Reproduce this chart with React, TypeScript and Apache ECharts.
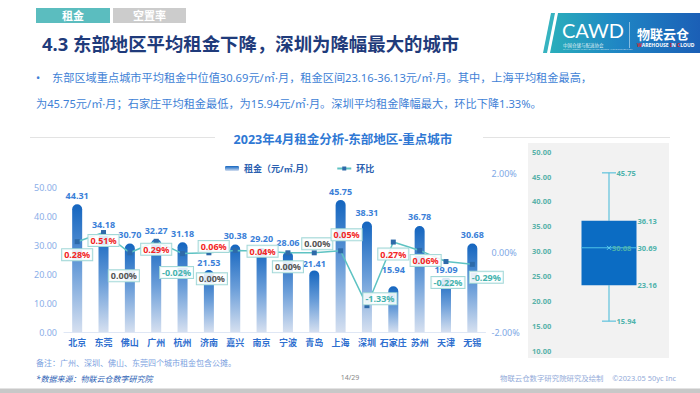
import React, { useEffect, useRef } from 'react';
import * as echarts from 'echarts';

const FONT = "'Noto Sans', 'Noto Sans CJK SC', sans-serif";

// ---------- data ----------
const cities = ['北京', '东莞', '佛山', '广州', '杭州', '济南', '嘉兴', '南京', '宁波', '青岛', '上海', '深圳', '石家庄', '苏州', '天津', '无锡'];
const rent = [44.31, 34.18, 30.7, 32.27, 31.18, 21.53, 30.38, 29.2, 28.06, 21.41, 45.75, 38.31, 15.94, 36.78, 19.09, 30.68];
const mom = [0.28, 0.51, 0.0, 0.29, -0.02, 0.0, 0.06, 0.04, 0.0, 0.0, 0.05, -1.33, 0.27, 0.06, -0.22, -0.29];
const boxStats = [15.94, 23.16, 30.69, 36.13, 45.75]; // min, q1, median, q3, max
const boxMean = 30.68;

const RENT_NAME = '租金（元/㎡.月）';
const MOM_NAME = '环比';

// ---------- label layout (style only) ----------
const rentLabelDist = [4, 4, 4, 4, 4, 3, 4, 4, 4, 2, 4, 4, 12, 4, 3, 4];
const momLabelLayout: [string, number, number[]][] = [
  ['bottom', 5, [0, 0]],
  ['bottom', 0, [0, 0]],
  ['bottom', 15, [-6, 0]],
  ['bottom', 0, [0, 0]],
  ['bottom', 11, [-6, 0]],
  ['bottom', 18, [3, 0]],
  ['left', 4, [0, -4]],
  ['inside', 0, [1, 0]],
  ['bottom', 6, [0, 0]],
  ['top', 1, [3, 0]],
  ['top', 8, [6, 0]],
  ['inside', 0, [13, -7]],
  ['bottom', 4, [0, 0]],
  ['bottom', 2, [6, 0]],
  ['bottom', 13, [2, 0]],
  ['bottom', 5, [14, 0]],
];

function txt(text: string, x: number, y: number, s: any = {}) {
  const align = s.align || 'left';
  const va = s.verticalAlign || 'middle';
  return {
    type: 'text',
    silent: true,
    z: s.z ?? 10,
    style: {
      text,
      x,
      y,
      fill: s.fill || '#333',
      fontSize: s.fontSize || 10,
      fontWeight: s.fontWeight || 'normal',
      fontStyle: s.fontStyle || 'normal',
      fontFamily: s.fontFamily || FONT,
      align,
      verticalAlign: va,
      textAlign: align,
      textVerticalAlign: va,
      lineHeight: s.lineHeight,
      rich: s.rich,
    },
  };
}

function buildOption() {
  const BOX_W = 55;
  const CAP_W = 14;
  const boxColor = '#0b6cc3';
  const whiskerColor = '#5ec2dc';
  const boxLabelColor = '#4fb3ac';

  const graphicElements: any[] = [
    // tabs
    { type: 'rect', shape: { x: 36, y: 8, width: 74, height: 15 }, style: { fill: '#5bbdbf' }, z: 1 },
    txt('租金', 73, 15.5, { fill: '#fff', fontSize: 11, fontWeight: 'bold', align: 'center' }),
    { type: 'rect', shape: { x: 113, y: 8, width: 73, height: 15 }, style: { fill: '#cccccc' }, z: 1 },
    txt('空置率', 149.5, 15.5, { fill: '#fff', fontSize: 11, fontWeight: 'bold', align: 'center' }),
    // heading
    txt('4.3 东部地区平均租金下降，深圳为降幅最大的城市', 42, 43, { fill: '#1f3b7b', fontSize: 18.4, fontWeight: 'bold' }),
    // logo
    {
      type: 'polygon',
      shape: { points: [[551, 13], [555, 13], [547, 53], [543, 53]] },
      style: { fill: '#36b3c0' },
      z: 1,
    },
    {
      type: 'polygon',
      shape: { points: [[558, 13], [700, 13], [700, 53], [550, 53]] },
      style: {
        fill: new echarts.graphic.LinearGradient(0, 0, 1, 0, [
          { offset: 0, color: '#2aaebb' },
          { offset: 0.45, color: '#1f86c4' },
          { offset: 1, color: '#1b5fb6' },
        ]),
      },
      z: 1,
    },
    txt('CAWD', 562, 30, { fill: '#fff', fontSize: 20, fontFamily: "'Lato', 'Noto Sans', sans-serif", lineHeight: 20 }),
    txt('中国仓储与配送协会', 563, 44.5, { fill: 'rgba(255,255,255,0.85)', fontSize: 4.5, lineHeight: 5 }),
    txt('CHINA ASSOCIATION OF WAREHOUSES AND DISTRIBUTION', 563, 48.5, { fill: 'rgba(255,255,255,0.7)', fontSize: 2.5, lineHeight: 3 }),
    { type: 'line', shape: { x1: 629.5, y1: 22, x2: 629.5, y2: 48 }, style: { stroke: 'rgba(255,255,255,0.6)', lineWidth: 0.8 }, z: 2 },
    txt('物联云仓', 637, 34, { fill: '#fff', fontSize: 13, fontWeight: 'bold', lineHeight: 14 }),
    txt('{r|W}{n|AREHOUSE }{r|I}{n|N }{r|C}{n|LOUD}', 637, 45, {
      fontSize: 5,
      fontWeight: 'bold',
      fill: '#fff',
      lineHeight: 6,
      rich: {
        r: { fill: '#e2262b', fontSize: 5, fontWeight: 'bold', fontFamily: FONT },
        n: { fill: '#ffffff', fontSize: 5, fontWeight: 'bold', fontFamily: FONT },
      },
    }),
    // bullet text
    txt('•', 36, 77, { fill: '#3e7fd6', fontSize: 11 }),
    txt('东部区域重点城市平均租金中位值30.69元/㎡·月，租金区间23.16-36.13元/㎡·月。其中，上海平均租金最高，', 52, 77, { fill: '#3e7fd6', fontSize: 11.2 }),
    txt('为45.75元/㎡·月；石家庄平均租金最低，为15.94元/㎡·月。深圳平均租金降幅最大，环比下降1.33%。', 36, 103.5, { fill: '#3e7fd6', fontSize: 11.2 }),
    // chart title and rules
    { type: 'line', shape: { x1: 30, y1: 137.5, x2: 215, y2: 137.5 }, style: { stroke: '#e3e3e3', lineWidth: 1 }, z: 1 },
    { type: 'line', shape: { x1: 483, y1: 137.5, x2: 670, y2: 137.5 }, style: { stroke: '#e3e3e3', lineWidth: 1 }, z: 1 },
    txt('2023年4月租金分析-东部地区-重点城市', 343, 139, { fill: '#2f78d4', fontSize: 12.5, fontWeight: 'bold', align: 'center' }),
    // box panel background
    { type: 'rect', shape: { x: 528, y: 143, width: 141, height: 215 }, style: { fill: '#f2f2f2' }, z: -10 },
    // footer
    txt('备注：广州、深圳、佛山、东莞四个城市租金包含公摊。', 36, 362.5, { fill: '#7b9fe0', fontSize: 8 }),
    txt('*数据来源：物联云仓数字研究院', 36, 378, { fill: '#2d5fb5', fontSize: 8, fontStyle: 'italic' }),
    txt('14/29', 350, 377, { fill: '#888', fontSize: 7, align: 'center' }),
    txt('物联云仓数字研究院研究及绘制', 500, 378, { fill: '#93abd9', fontSize: 7.4 }),
    txt('©2023.05 50yc Inc', 676, 378, { fill: '#93abd9', fontSize: 7.4, align: 'right' }),
    { type: 'rect', shape: { x: 0, y: 388.5, width: 700, height: 5 }, style: { fill: '#c8c8c8' }, z: 1 },
  ];

  return {
    animation: false,
    backgroundColor: '#ffffff',
    textStyle: { fontFamily: FONT },
    legend: {
      left: 220,
      top: 159,
      itemWidth: 14,
      itemHeight: 5,
      itemGap: 23,
      data: [RENT_NAME, MOM_NAME],
      textStyle: { fontSize: 9, fontWeight: 'bold', color: '#2b5fb0', fontFamily: FONT },
    },
    grid: [
      { left: 64, right: 214.5, top: 173.3, bottom: 60.7 },
      { left: 556, width: 106, top: 151.7, bottom: 42.3 },
    ],
    xAxis: [
      {
        type: 'category',
        gridIndex: 0,
        data: cities,
        axisTick: { show: false },
        axisLine: { lineStyle: { color: '#dfe7f5' } },
        axisLabel: { color: '#2f6fcf', fontSize: 9, fontWeight: 'bold', margin: 6, interval: 0 },
      },
      { type: 'category', gridIndex: 1, data: ['租金'], show: false },
    ],
    yAxis: [
      {
        type: 'value',
        gridIndex: 0,
        min: 0,
        max: 55,
        interval: 10,
        splitLine: { show: false },
        axisLine: { show: false },
        axisTick: { show: false },
        axisLabel: { formatter: (v: number) => v.toFixed(2), showMaxLabel: false, color: '#8aaee8', fontSize: 9, margin: 7 },
      },
      {
        type: 'value',
        gridIndex: 0,
        position: 'right',
        min: -2,
        max: 2,
        interval: 2,
        splitLine: { show: false },
        axisLine: { show: false },
        axisTick: { show: false },
        axisLabel: { formatter: (v: number) => v.toFixed(2) + '%', color: '#80a8e6', fontSize: 9, margin: 6 },
      },
      {
        type: 'value',
        gridIndex: 1,
        min: 10,
        max: 50,
        interval: 5,
        splitLine: { show: false },
        axisLine: { show: false },
        axisTick: { show: false },
        axisLabel: { formatter: (v: number) => v.toFixed(2), color: '#5ab2aa', fontSize: 7.5, fontWeight: 'bold', align: 'left', margin: 24 },
      },
    ],
    series: [
      {
        name: RENT_NAME,
        type: 'bar',
        xAxisIndex: 0,
        yAxisIndex: 0,
        barWidth: 10,
        z: 2,
        itemStyle: {
          borderRadius: [5, 5, 0, 0],
          color: new echarts.graphic.LinearGradient(0, 0, 0, 1, [
            { offset: 0, color: '#1465bf' },
            { offset: 0.5, color: '#6b9ed9' },
            { offset: 1, color: '#d6e0f0' },
          ]),
        },
        label: {
          show: true,
          position: 'top',
          distance: 4,
          color: '#3b7fd8',
          fontSize: 9,
          fontWeight: 'bold',
          lineHeight: 10,
          formatter: (p: any) => Number(p.value).toFixed(2),
        },
        data: rent.map((v, i) => ({ value: v, label: { distance: rentLabelDist[i] } })),
      },
      {
        name: MOM_NAME,
        type: 'line',
        xAxisIndex: 0,
        yAxisIndex: 1,
        z: 5,
        symbol: 'rect',
        symbolSize: 5,
        lineStyle: { color: '#5ec3c3', width: 1.5 },
        itemStyle: { color: '#2e6aa9' },
        label: {
          show: true,
          fontSize: 9,
          fontWeight: 'bold',
          lineHeight: 9,
          backgroundColor: 'rgba(255,255,255,0.85)',
          borderColor: '#a2d8d8',
          borderWidth: 1,
          padding: [1, 2],
          formatter: (p: any) => Number(p.value).toFixed(2) + '%',
        },
        data: mom.map((v, i) => {
          const [pos, dist, off] = momLabelLayout[i];
          return {
            value: v,
            label: {
              position: pos,
              distance: dist,
              offset: off,
              color: v > 0 ? '#f22525' : v < 0 ? '#45b3ae' : '#555555',
            },
          };
        }),
      },
      {
        type: 'custom',
        xAxisIndex: 1,
        yAxisIndex: 2,
        silent: true,
        z: 3,
        data: [[0, ...boxStats, boxMean]],
        renderItem: (params: any, api: any) => {
          const idx = api.value(0);
          const pt = (v: number) => api.coord([idx, v]);
          const [cx, yMin] = pt(api.value(1));
          const yQ1 = pt(api.value(2))[1];
          const yMed = pt(api.value(3))[1];
          const yQ3 = pt(api.value(4))[1];
          const yMax = pt(api.value(5))[1];
          const yMean = pt(api.value(6))[1];
          const half = BOX_W / 2;
          const cap = CAP_W / 2;
          const ls = { stroke: whiskerColor, lineWidth: 1.2 };
          const lbl = (t: string, x: number, y: number) => ({
            type: 'text',
            style: {
              text: t,
              x,
              y,
              fill: boxLabelColor,
              fontSize: 7.5,
              fontWeight: 'bold',
              fontFamily: FONT,
              align: 'left',
              verticalAlign: 'middle',
              textAlign: 'left',
              textVerticalAlign: 'middle',
            },
          });
          return {
            type: 'group',
            children: [
              { type: 'line', shape: { x1: cx, y1: yMax, x2: cx, y2: yQ3 }, style: ls },
              { type: 'line', shape: { x1: cx, y1: yQ1, x2: cx, y2: yMin }, style: ls },
              { type: 'line', shape: { x1: cx - cap, y1: yMax, x2: cx + cap, y2: yMax }, style: ls },
              { type: 'line', shape: { x1: cx - cap, y1: yMin, x2: cx + cap, y2: yMin }, style: ls },
              { type: 'rect', shape: { x: cx - half, y: yQ3, width: BOX_W, height: yQ1 - yQ3 }, style: { fill: boxColor } },
              { type: 'line', shape: { x1: cx - half, y1: yMed, x2: cx + half, y2: yMed }, style: { stroke: '#4fc3e8', lineWidth: 1 } },
              { type: 'line', shape: { x1: cx - 2, y1: yMean - 2, x2: cx + 2, y2: yMean + 2 }, style: { stroke: '#5fd0f0', lineWidth: 1 } },
              { type: 'line', shape: { x1: cx - 2, y1: yMean + 2, x2: cx + 2, y2: yMean - 2 }, style: { stroke: '#5fd0f0', lineWidth: 1 } },
              lbl(Number(api.value(5)).toFixed(2), cx + cap + 0.5, yMax),
              lbl(Number(api.value(4)).toFixed(2), cx + half + 1, yQ3),
              lbl(Number(api.value(3)).toFixed(2), cx + half + 1, yMed),
              lbl(Number(api.value(6)).toFixed(2), cx + 3, yMean),
              lbl(Number(api.value(2)).toFixed(2), cx + half + 1, yQ1),
              lbl(Number(api.value(1)).toFixed(2), cx + cap + 0.5, yMin),
            ],
          };
        },
      },
    ],
    graphic: { elements: graphicElements },
  };
}

export default function App() {
  const ref = useRef<HTMLDivElement>(null);
  useEffect(() => {
    document.body.style.margin = '0';
    const chart = echarts.init(ref.current!, null, { renderer: 'svg' });
    chart.setOption(buildOption() as any);
    return () => chart.dispose();
  }, []);
  return <div ref={ref} style={{ width: 700, height: 393, background: '#fff' }} />;
}
